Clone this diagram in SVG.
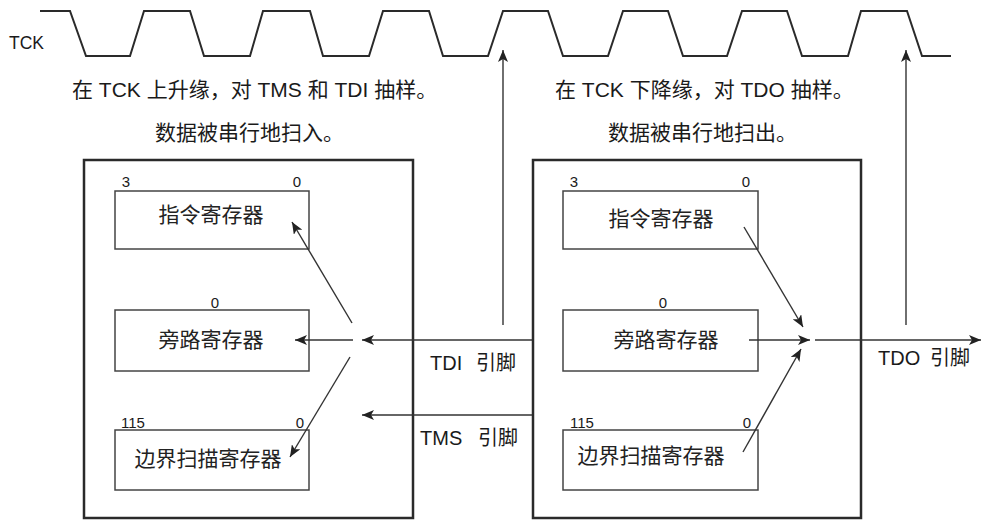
<svg xmlns="http://www.w3.org/2000/svg" width="981" height="520" viewBox="0 0 981 520">
<style>
text{font-family:"Liberation Sans","Noto Sans CJK SC",sans-serif;fill:#1a1a1a}
.lbl{font-size:21px}
.reg{font-size:21px;text-anchor:middle;fill:#222}
.num{font-size:15px;text-anchor:middle}
.pin{font-size:20px}
.outer{fill:none;stroke:#2a2a2a;stroke-width:2.5}
.inner{fill:#fff;stroke:#444;stroke-width:1.5}
.wave{fill:none;stroke:#2a2a2a;stroke-width:2;stroke-linejoin:miter}
.c{fill:none;stroke:#333;stroke-width:1.4}
</style>
<defs>
<marker id="ah" viewBox="0 0 12 10" refX="12" refY="5" markerWidth="12" markerHeight="10" orient="auto" markerUnits="userSpaceOnUse">
<path d="M0,0 L12,5 L0,10 L3,5 z" fill="#222"/>
</marker>
</defs>
<rect width="981" height="520" fill="#fff"/>
<g id="tck">
<text x="9" y="49" style="font-size:17.5px">TCK</text>
<path class="wave" d="M40,11 H70 L86,56 H130 L144,11 H190 L204,56 H250 L263,11 H310 L323,56 H369 L383,11 H429 L443,56 H488 L503,11 H548 L563,56 H608 L623,11 H668 L683,56 H727 L742,11 H787 L802,56 H848 L861,11 H907 L922,56 H951"/>
</g>
<g id="notes">
<text class="lbl" x="72" y="97">在 TCK 上升缘，对 TMS 和 TDI 抽样。</text>
<text class="lbl" x="155" y="140">数据被串行地扫入。</text>
<text class="lbl" x="555" y="97">在 TCK 下降缘，对 TDO 抽样。</text>
<text class="lbl" x="608" y="140">数据被串行地扫出。</text>
</g>
<g id="left-device">
<rect class="outer" x="84" y="160" width="329" height="358"/>
</g>
<g id="left-ir">
<rect class="inner" x="115" y="191" width="194" height="58"/>
<text class="num" x="126" y="187">3</text>
<text class="num" x="297" y="187">0</text>
<text class="reg" x="211" y="222">指令寄存器</text>
</g>
<g id="left-bypass">
<rect class="inner" x="115" y="310" width="194" height="61"/>
<text class="num" x="215" y="308">0</text>
<text class="reg" x="211" y="347">旁路寄存器</text>
</g>
<g id="left-bsr">
<rect class="inner" x="115" y="430" width="194" height="60"/>
<text class="num" x="133" y="428">115</text>
<text class="num" x="300" y="428">0</text>
<text class="reg" x="208" y="466">边界扫描寄存器</text>
</g>
<g id="right-device">
<rect class="outer" x="533" y="160" width="328" height="358"/>
</g>
<g id="right-ir">
<rect class="inner" x="563" y="191" width="195" height="58"/>
<text class="num" x="574" y="187">3</text>
<text class="num" x="746" y="187">0</text>
<text class="reg" x="661" y="226">指令寄存器</text>
</g>
<g id="right-bypass">
<rect class="inner" x="563" y="310" width="195" height="61"/>
<text class="num" x="663" y="308">0</text>
<text class="reg" x="666" y="347">旁路寄存器</text>
</g>
<g id="right-bsr">
<rect class="inner" x="563" y="430" width="195" height="60"/>
<text class="num" x="582" y="428">115</text>
<text class="num" x="747" y="428">0</text>
<text class="reg" x="651" y="463">边界扫描寄存器</text>
</g>
<g id="pins">
<text class="pin" x="430" y="370">TDI<tspan x="476">引脚</tspan></text>
<text class="pin" x="420" y="445">TMS<tspan x="478">引脚</tspan></text>
<text class="pin" x="878" y="365">TDO<tspan x="930">引脚</tspan></text>
</g>
<g id="connectors">
<path class="c" d="M503,325 V50" marker-end="url(#ah)"/>
<path class="c" d="M906,325 V50" marker-end="url(#ah)"/>
<path class="c" d="M532,340 H362" marker-end="url(#ah)"/>
<path class="c" d="M532,415 H362" marker-end="url(#ah)"/>
<path class="c" d="M353,340 H295" marker-end="url(#ah)"/>
<path class="c" d="M352,323 L292,222" marker-end="url(#ah)"/>
<path class="c" d="M350,357 L290,457" marker-end="url(#ah)"/>
<path class="c" d="M744,227 L803,327" marker-end="url(#ah)"/>
<path class="c" d="M749,340 H810" marker-end="url(#ah)"/>
<path class="c" d="M743,452 L801,349" marker-end="url(#ah)"/>
<path class="c" d="M815,340 H981" marker-end="url(#ah)"/>
</g>
</svg>
